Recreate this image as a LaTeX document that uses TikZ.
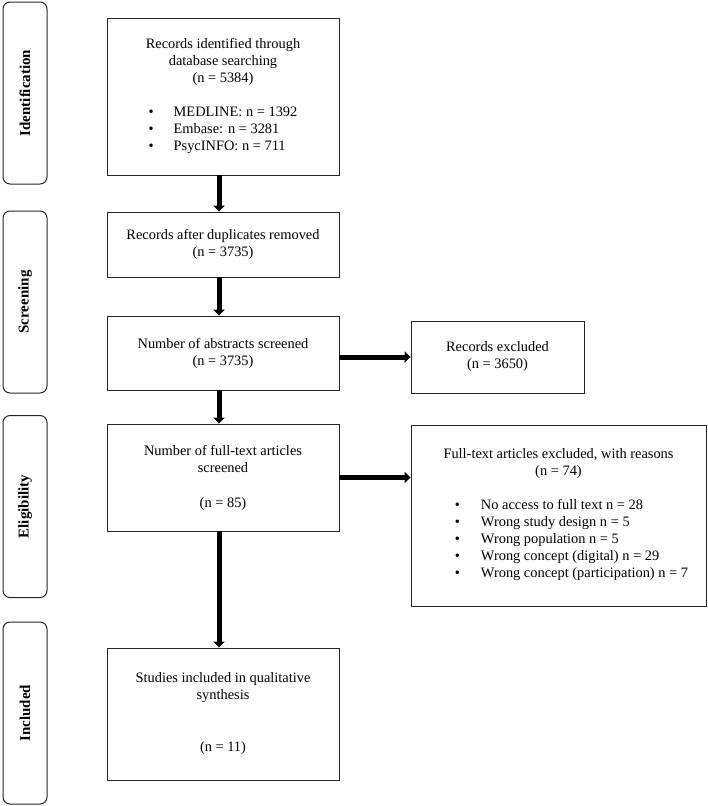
\documentclass[tikz,border=0pt]{standalone}
\usepackage{fontspec}
\setmainfont{Liberation Serif}
\usetikzlibrary{arrows.meta, positioning}

\tikzset{
  phase/.style={draw, black!85, text=black, rounded corners=7pt, line width=1pt, rotate=90,
    minimum width=182pt, minimum height=44pt, font=\fontsize{15}{18}\selectfont\bfseries},
  stagebox/.style={draw, black!85, text=black, line width=0.9pt, align=center,
    minimum width=232pt, inner sep=0pt},
  sidebox/.style={draw, black!85, text=black, line width=0.9pt, align=center, inner sep=0pt},
  flow/.style={line width=5pt, -{Triangle[length=6pt, width=11pt]}}
}

\begin{document}
\begin{tikzpicture}[x=1pt, y=1pt, every node/.style={font=\fontsize{14.4}{17}\selectfont}]
\useasboundingbox (0,0) rectangle (708,-806);

% Phases
\node[phase] (pid) at (25,-93) {Identification};
\node[phase] (pscr) at (25,-302) {Screening};
\node[phase] (pel) at (25,-506.5) {Eligibility};
\node[phase] (pinc) at (25,-713) {Included};

% Main column
\node[stagebox, minimum height=157pt] (ident) at (223,-96.5) {Records identified through\\database searching\\(n = 5384)\\[18pt]
  \begin{tabular}{@{}l@{\hspace{20pt}}l@{}}
  \textbullet & MEDLINE: n = 1392\\
  \textbullet & Embase: n = 3281\\
  \textbullet & PsycINFO: n = 711
  \end{tabular}};

\node[stagebox, minimum height=65pt] (dupl) at (223,-244.5) {Records after duplicates removed\\(n = 3735)};

\node[stagebox, minimum height=74pt] (abstr) at (223,-353) {Number of abstracts screened\\(n = 3735)};

\node[stagebox, minimum height=107pt] (full) at (223,-477.5) {Number of full-text articles\\screened\\[18pt](n = 85)};

\node[stagebox, minimum height=132pt] (incl) at (223,-714) {Studies included in qualitative\\synthesis\\[35pt](n = 11)};

% Exclusions
\node[sidebox, minimum width=173pt, minimum height=72pt] (excl) at (497.5,-357) {Records excluded\\(n = 3650)};

\node[sidebox, minimum width=295pt, minimum height=181pt] (fullex) at (558.5,-515.5) {Full-text articles excluded, with reasons\\(n = 74)\\[18pt]
  \begin{tabular}{@{\hspace{26pt}}l@{\hspace{21pt}}l@{}}
  \textbullet & No access to full text n = 28\\
  \textbullet & Wrong study design n = 5\\
  \textbullet & Wrong population n = 5\\
  \textbullet & Wrong concept (digital) n = 29\\
  \textbullet & Wrong concept (participation) n = 7
  \end{tabular}};

% Arrows
\draw[flow] ([xshift=-4pt]ident.south) -- ([xshift=-4pt]dupl.north);
\draw[flow] ([xshift=-4pt]dupl.south) -- ([xshift=-4pt]abstr.north);
\draw[flow] ([xshift=-4pt]abstr.south) -- ([xshift=-4pt]full.north);
\draw[flow] ([xshift=-4pt]full.south) -- ([xshift=-4pt]incl.north);
\draw[flow] (abstr.east |- excl.west) -- (excl.west);
\draw[flow] (full.east) -- (full.east -| fullex.west);
\end{tikzpicture}
\end{document}
